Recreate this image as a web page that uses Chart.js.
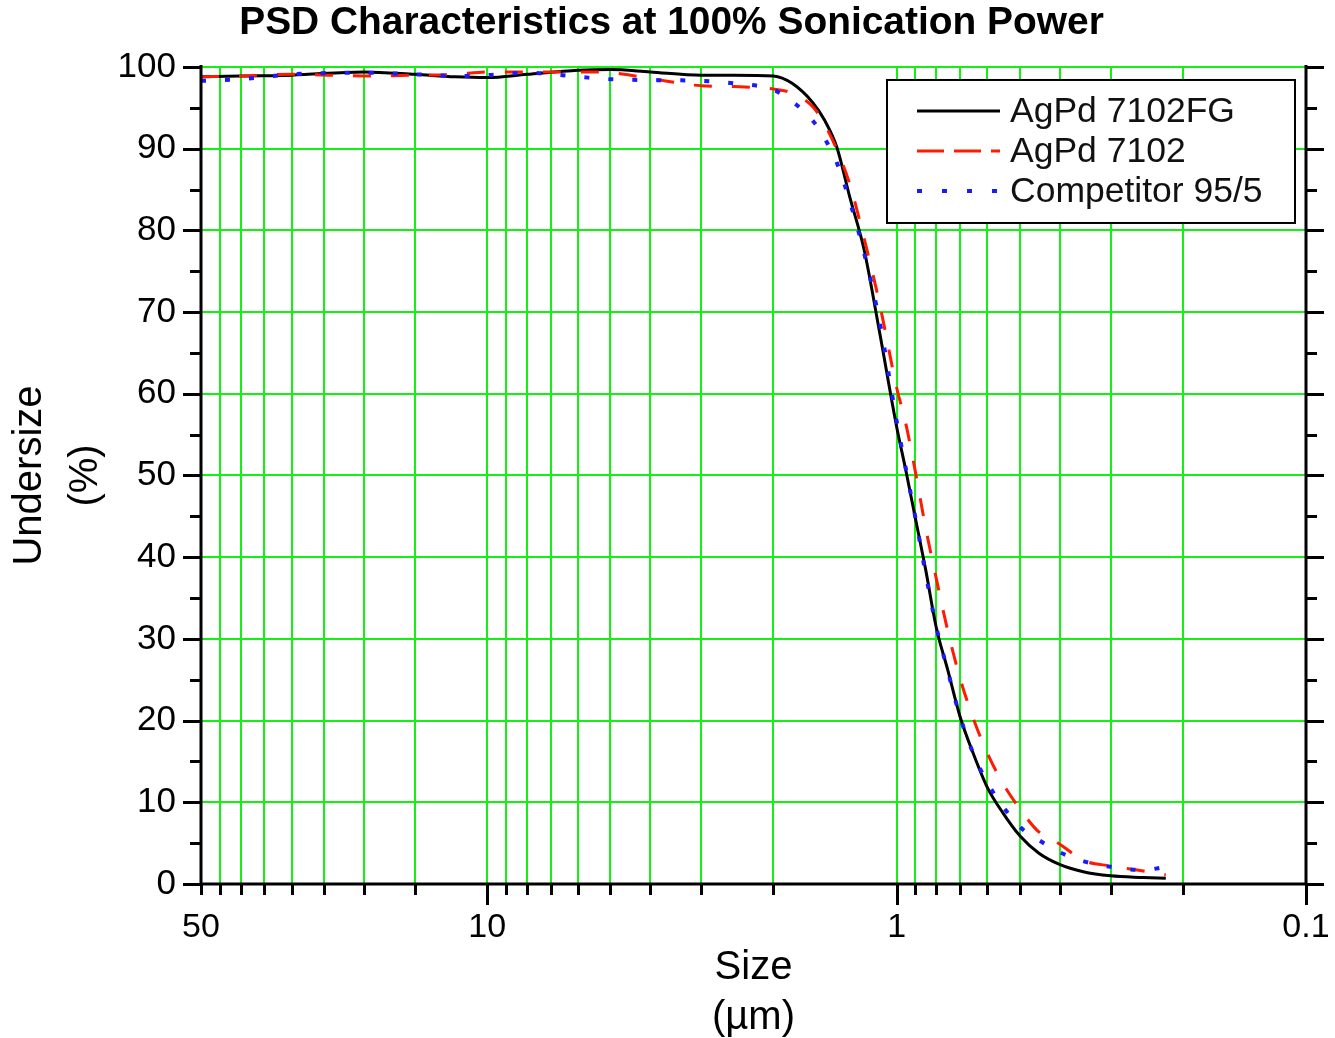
<!DOCTYPE html>
<html>
<head>
<meta charset="utf-8">
<title>PSD Characteristics at 100% Sonication Power</title>
<script src="https://cdn.jsdelivr.net/npm/chart.js@4.4.1/dist/chart.umd.min.js"></script>
<style>
  html, body { margin: 0; padding: 0; background: #fff; }
  #wrap { width: 1335px; height: 1038px; }
</style>
</head>
<body>
<div id="wrap"><canvas id="psd-chart" width="1335" height="1038"></canvas></div>
<script>
// Particle size (um)
const sizes = [50, 40, 30, 20, 15, 12, 10, 8, 6, 5, 4, 3, 2.5, 2, 1.8, 1.6, 1.5, 1.4, 1.3, 1.2, 1.1,
               1.0, 0.95, 0.9, 0.85, 0.8, 0.75, 0.7, 0.65, 0.6, 0.55, 0.5, 0.45, 0.4, 0.35, 0.3, 0.25, 0.22];

// Cumulative undersize (%)
const agpd7102FG = [98.8, 98.9, 99.0, 99.4, 99.1, 98.8, 98.7, 99.1, 99.6, 99.7, 99.4, 99.0, 99.0, 98.9, 98.0, 95.6, 93.5, 90.2, 84.0, 77.6, 67.5,
                    56.0, 50.7, 44.8, 38.6, 31.4, 26.2, 20.5, 16.0, 11.8, 8.7, 5.9, 3.8, 2.4, 1.5, 1.0, 0.8, 0.7];
const agpd7102 = [98.8, 98.9, 99.1, 98.9, 99.0, 99.1, 99.4, 99.4, 99.4, 99.3, 98.6, 97.7, 97.6, 97.3, 96.8, 95.1, 93.0, 89.9, 85.6, 79.0, 71.0,
                  60.8, 56.4, 50.5, 43.7, 37.4, 31.0, 25.2, 20.3, 16.0, 12.3, 9.2, 6.4, 4.9, 2.9, 2.2, 1.6, 1.1];
const competitor955 = [98.3, 98.5, 99.1, 99.3, 99.1, 98.9, 99.0, 99.3, 98.8, 98.5, 98.4, 98.3, 98.0, 97.2, 95.8, 93.4, 91.3, 88.3, 83.5, 77.2, 68.8,
                       56.7, 50.9, 44.9, 38.1, 31.5, 26.1, 20.5, 16.0, 12.4, 9.5, 7.0, 5.4, 3.9, 2.8, 2.1, 1.7, 2.1];

// Axis ticks / grid
const xGridValues = [50, 45, 40, 35, 30, 25, 20, 15, 10, 9, 8, 7, 6, 5, 4, 3, 2, 1,
                     0.9, 0.8, 0.7, 0.6, 0.5, 0.4, 0.3, 0.2, 0.1];
const xLabelValues = [50, 10, 1, 0.1];
const xMajorValues = [10, 1, 0.1];
const yGridValues = [0, 5, 10, 15, 20, 25, 30, 35, 40, 45, 50, 55, 60, 65, 70, 75, 80, 85, 90, 95, 100];

const FONT = "'Liberation Sans', Arial, Helvetica, sans-serif";
const GRID_GREEN = '#14ef14';

function toPoints(values) {
    return sizes.map((s, i) => ({ x: s, y: values[i] }));
}

// Black frame plus the outside tick marks (long at majors, short at minors)
const frameTicks = {
    id: 'frameTicks',
    afterDraw(chart) {
        const { ctx, chartArea: area, scales: { x, y } } = chart;
        ctx.save();
        ctx.strokeStyle = '#000';
        ctx.lineWidth = 3;
        ctx.lineCap = 'butt';
        ctx.beginPath();
        yGridValues.forEach(v => {
            const py = Math.round(y.getPixelForValue(v)) + 0.5;
            const len = v % 10 === 0 ? 18 : 11;
            ctx.moveTo(area.left - len, py);
            ctx.lineTo(area.left, py);
            ctx.moveTo(area.right, py);
            ctx.lineTo(area.right + len, py);
        });
        xGridValues.forEach(v => {
            const px = Math.round(x.getPixelForValue(v)) + 0.5;
            const len = xMajorValues.includes(v) ? 21 : 11;
            ctx.moveTo(px, area.bottom);
            ctx.lineTo(px, area.bottom + len);
        });
        ctx.moveTo(area.left, area.top - 2);
        ctx.lineTo(area.left, area.bottom + 1.5);
        ctx.moveTo(area.left - 1.5, area.bottom);
        ctx.lineTo(area.right + 1.5, area.bottom);
        ctx.moveTo(area.right, area.top - 2);
        ctx.lineTo(area.right, area.bottom + 1.5);
        ctx.stroke();
        ctx.restore();
    }
};

// Boxed legend inside the plot, top right
const boxLegend = {
    id: 'boxLegend',
    afterDraw(chart) {
        const { ctx, chartArea: area } = chart;
        const w = 408, h = 143;
        const left = area.right - 11 - w;
        const top = area.top + 13;
        ctx.save();
        ctx.fillStyle = '#fff';
        ctx.fillRect(left, top, w, h);
        ctx.lineWidth = 2;
        ctx.strokeStyle = '#000';
        ctx.strokeRect(left, top, w, h);
        ctx.font = '35.5px ' + FONT;
        ctx.textBaseline = 'middle';
        chart.data.datasets.forEach((ds, i) => {
            const cy = top + 31 + i * 40;
            ctx.beginPath();
            ctx.setLineDash(ds.legendDash || []);
            ctx.lineWidth = ds.borderWidth;
            ctx.strokeStyle = ds.borderColor;
            ctx.moveTo(left + 30, cy);
            ctx.lineTo(left + 113, cy);
            ctx.stroke();
            ctx.setLineDash([]);
            ctx.fillStyle = '#111';
            ctx.fillText(ds.label, left + 123, cy + 1);
        });
        ctx.restore();
    }
};

const ctx = document.getElementById('psd-chart').getContext('2d');

new Chart(ctx, {
    type: 'line',
    data: {
        datasets: [
            {
                label: 'AgPd 7102FG',
                data: toPoints(agpd7102FG),
                borderColor: '#000000',
                borderWidth: 3,
                legendDash: [],
                order: 3
            },
            {
                label: 'AgPd 7102',
                data: toPoints(agpd7102),
                borderColor: '#ff1a00',
                borderWidth: 3,
                borderDash: [18, 20],
                legendDash: [27, 10],
                order: 2
            },
            {
                label: 'Competitor 95/5',
                data: toPoints(competitor955),
                borderColor: '#1a1aff',
                borderWidth: 4,
                borderDash: [5, 19],
                legendDash: [5, 20],
                order: 1
            }
        ]
    },
    options: {
        responsive: false,
        devicePixelRatio: 1,
        animation: false,
        elements: {
            point: { radius: 0, hoverRadius: 0 },
            line: { cubicInterpolationMode: 'monotone', fill: false }
        },
        // left padding only shifts the centred title; the y axis width below compensates
        layout: { padding: { left: 37, right: 29, top: 0, bottom: 0 } },
        plugins: {
            legend: { display: false },
            tooltip: { enabled: false },
            title: {
                display: true,
                text: 'PSD Characteristics at 100% Sonication Power',
                color: '#000',
                font: { family: FONT, size: 38.9, weight: 'bold', lineHeight: 1.2 },
                padding: { top: 0, bottom: 20.3 }
            }
        },
        scales: {
            x: {
                type: 'logarithmic',
                reverse: true,
                min: 0.1,
                max: 50,
                afterBuildTicks: scale => {
                    scale.ticks = xGridValues.map(v => ({ value: v }));
                },
                afterFit: scale => { scale.height = 154; },
                ticks: {
                    autoSkip: false,
                    maxRotation: 0,
                    minRotation: 0,
                    padding: 4,
                    color: '#000',
                    font: { family: FONT, size: 34 },
                    callback: value => xLabelValues.includes(value) ? String(value) : ''
                },
                grid: {
                    color: GRID_GREEN,
                    lineWidth: 2,
                    drawTicks: true,
                    tickLength: 19,
                    tickColor: 'rgba(0,0,0,0)'
                },
                border: { display: false },
                title: {
                    display: true,
                    text: ['Size', '(\u00b5m)'],
                    color: '#000',
                    font: { family: FONT, size: 40, lineHeight: 1.25 },
                    padding: { top: 0, bottom: -5 }
                }
            },
            y: {
                min: 0,
                max: 100,
                afterFit: scale => { scale.width = 164; },
                ticks: {
                    stepSize: 5,
                    padding: 25,
                    color: '#000',
                    font: { family: FONT, size: 35 },
                    callback: value => value % 10 === 0 ? String(value) : ''
                },
                grid: {
                    color: GRID_GREEN,
                    lineWidth: 2,
                    drawTicks: false
                },
                border: { display: false },
                title: {
                    display: true,
                    text: ['Undersize', '(%)'],
                    color: '#000',
                    font: { family: FONT, size: 40, lineHeight: 1.4 },
                    padding: { top: -35, bottom: 0 }
                }
            }
        }
    },
    plugins: [frameTicks, boxLegend]
});
</script>
</body>
</html>
